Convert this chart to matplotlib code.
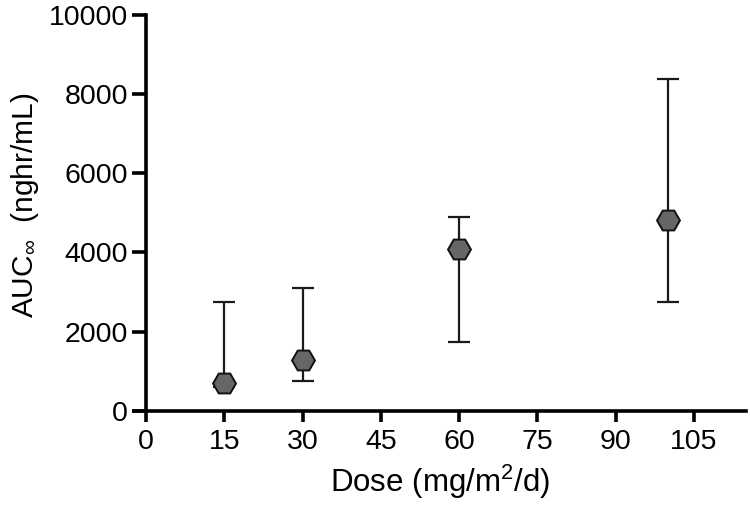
import matplotlib
matplotlib.use("Agg")
import matplotlib.pyplot as plt
import numpy as np

plt.rcParams['font.family'] = ['Liberation Sans', 'DejaVu Sans']
plt.rcParams['mathtext.fontset'] = 'custom'
plt.rcParams['mathtext.rm'] = 'Liberation Sans'
plt.rcParams['mathtext.it'] = 'Liberation Sans:italic'

dose = [15, 30, 60, 100]
auc = [690, 1290, 4085, 4810]
auc_low = [600, 745, 1740, 2735]
auc_high = [2745, 3110, 4905, 8370]
xticks = [0, 15, 30, 45, 60, 75, 90, 105]
yticks = [0, 2000, 4000, 6000, 8000, 10000]

fig = plt.figure(figsize=(7.5, 5.13), dpi=100)
ax = fig.add_axes([134/750, 1-410.7/513, (746-134)/750, (410.7-15)/513])

yerr = np.array([np.array(auc) - np.array(auc_low), np.array(auc_high) - np.array(auc)])
ax.errorbar(dose, auc, yerr=yerr, fmt='none', ecolor='#1a1a1a', elinewidth=1.6,
            capsize=8, capthick=1.6, zorder=2)
ax.plot(dose, auc, linestyle='none', marker='H', markersize=16.5,
        markerfacecolor='#666666', markeredgecolor='#111111', markeredgewidth=1.4, zorder=3)

ax.set_xlim(-2.35, 115)
ax.set_ylim(0, 10000)
ax.spines['left'].set_position(('data', 0))
ax.spines['top'].set_visible(False)
ax.spines['right'].set_visible(False)
for s in ['left', 'bottom']:
    ax.spines[s].set_linewidth(2.6)
ax.set_xticks(xticks)
ax.set_yticks(yticks)
ax.tick_params(axis='y', length=10, width=2.6, labelsize=20.5, pad=3)
ax.tick_params(axis='x', length=8, width=2.6, labelsize=20.5, pad=5)

ax.set_xlabel('Dose (mg/m$^2$/d)', fontsize=22.5, labelpad=6)
ax.set_ylabel('AUC$_{\\infty}$  (nghr/mL)', fontsize=21.5, labelpad=10)
ax.yaxis.set_label_coords(-0.152, 0.52)

fig.savefig('out.png', dpi=100)
